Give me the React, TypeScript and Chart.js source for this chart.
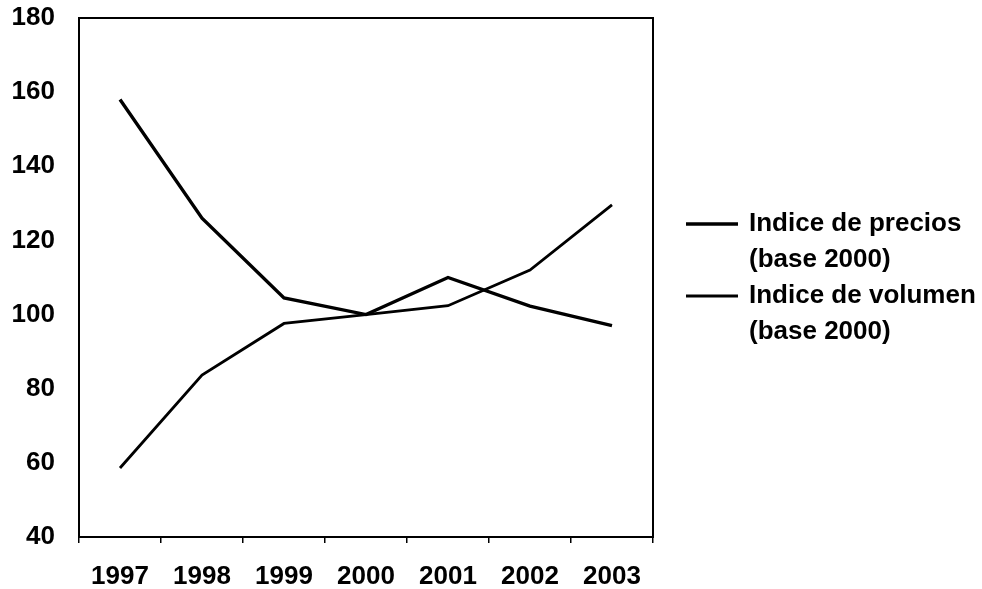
import React, { useEffect, useRef } from "react";
import { Chart, registerables } from "chart.js";

Chart.register(...registerables);

const years = ["1997", "1998", "1999", "2000", "2001", "2002", "2003"];
const precios = [158, 126, 104.5, 100, 110, 102.3, 97];
const volumen = [58.6, 83.7, 97.6, 100, 102.4, 112, 129.6];
const legendLabels = [
  ["Indice de precios", "(base 2000)"],
  ["Indice de volumen", "(base 2000)"],
];
const yMin = 40;
const yMax = 180;
const yStep = 20;

const FONT_FAMILY = "'Liberation Sans', Arial, Helvetica, sans-serif";

const boxAndLegend = {
  id: "boxAndLegend",
  afterDraw(chart: any) {
    const { ctx, chartArea } = chart;
    ctx.save();
    ctx.strokeStyle = "#000";
    ctx.lineWidth = 2;
    ctx.strokeRect(chartArea.left, chartArea.top, chartArea.right - chartArea.left, chartArea.bottom - chartArea.top);

    // legend
    const x0 = chartArea.right + 33;
    const lineLen = 52;
    const textX = x0 + lineLen + 11;
    const startY = 224;
    const lineGap = 36;
    ctx.font = `bold 26px ${FONT_FAMILY}`;
    ctx.fillStyle = "#000";
    ctx.textBaseline = "middle";
    ctx.textAlign = "left";
    chart.data.datasets.forEach((ds: any, i: number) => {
      const y = startY + i * 2 * lineGap;
      ctx.beginPath();
      ctx.lineWidth = ds.borderWidth;
      ctx.strokeStyle = ds.borderColor;
      ctx.moveTo(x0, y);
      ctx.lineTo(x0 + lineLen, y);
      ctx.stroke();
      legendLabels[i].forEach((t, j) => {
        ctx.fillText(t, textX, y + j * lineGap);
      });
    });
    ctx.restore();
  },
};

export default function App() {
  const ref = useRef<HTMLCanvasElement | null>(null);
  useEffect(() => {
    document.body.style.margin = "0";
    const chart = new Chart(ref.current as HTMLCanvasElement, {
      type: "line",
      data: {
        labels: years,
        datasets: [
          {
            label: legendLabels[0].join(" "),
            data: precios,
            borderColor: "#000",
            borderWidth: 3.4,
            pointRadius: 0,
            tension: 0,
            fill: false,
          },
          {
            label: legendLabels[1].join(" "),
            data: volumen,
            borderColor: "#000",
            borderWidth: 2.8,
            pointRadius: 0,
            tension: 0,
            fill: false,
          },
        ],
      },
      options: {
        animation: false,
        responsive: false,
        layout: { padding: { top: 18, right: 329, left: 0, bottom: 0 } },
        plugins: { legend: { display: false }, tooltip: { enabled: false } },
        scales: {
          x: {
            type: "category",
            offset: true,
            grid: {
              display: true,
              offset: true,
              drawOnChartArea: false,
              drawTicks: true,
              tickLength: 6,
              color: "#000",
              lineWidth: 1.5,
            },
            border: { display: true, color: "#000", width: 2 },
            ticks: {
              color: "#000",
              font: { family: FONT_FAMILY, size: 26, weight: "bold" },
              padding: 18,
              maxRotation: 0,
            },
            afterFit(scale: any) {
              scale.height = 52;
              scale.paddingLeft = 0;
              scale.paddingRight = 0;
            },
          },
          y: {
            min: yMin,
            max: yMax,
            grid: { display: false, drawTicks: false },
            border: { display: true, color: "#000", width: 2 },
            ticks: {
              stepSize: yStep,
              color: "#000",
              font: { family: FONT_FAMILY, size: 26, weight: "bold" },
              padding: 24,
            },
            afterFit(scale: any) {
              scale.width = 79;
              scale.paddingTop = 0;
              scale.paddingBottom = 0;
            },
          },
        },
      },
      plugins: [boxAndLegend],
    });
    return () => chart.destroy();
  }, []);
  return (
    <div style={{ width: 982, height: 589, background: "#fff" }}>
      <canvas ref={ref} width={982} height={589} style={{ display: "block" }} />
    </div>
  );
}
